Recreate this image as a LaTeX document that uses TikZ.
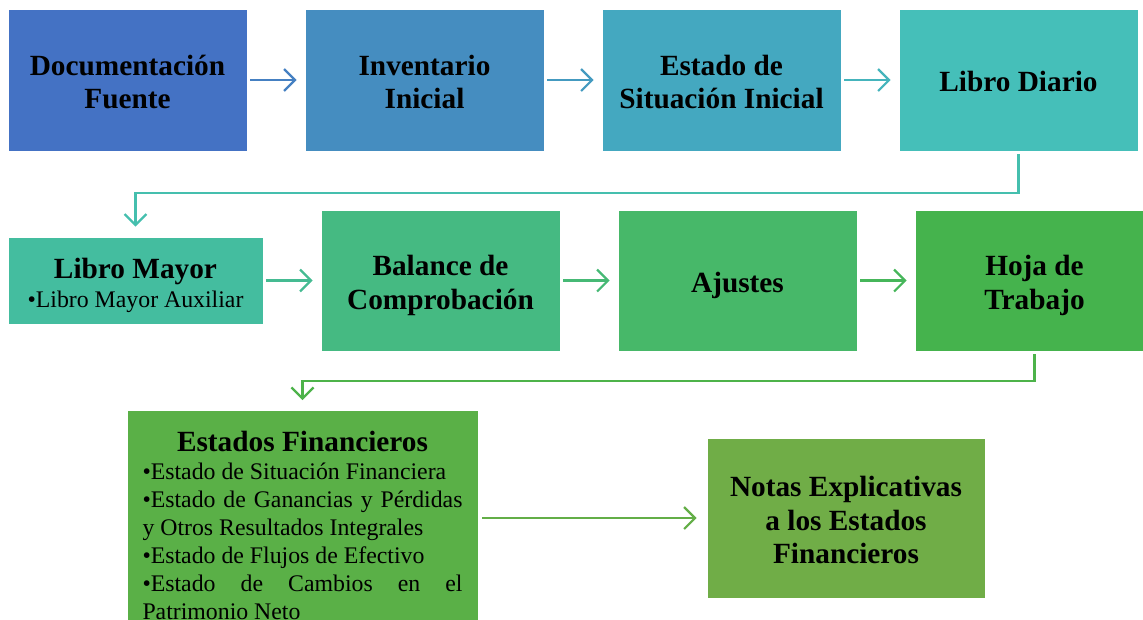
\documentclass[tikz,border=0pt]{standalone}
\usepackage{fontspec}
\setmainfont{Liberation Serif}
\usetikzlibrary{arrows.meta}
\definecolor{c1}{HTML}{4472C4}
\definecolor{c2}{HTML}{458DC0}
\definecolor{c3}{HTML}{44A8C0}
\definecolor{c4}{HTML}{45BFB9}
\definecolor{c5}{HTML}{44BD9F}
\definecolor{c6}{HTML}{45BA82}
\definecolor{c7}{HTML}{47B869}
\definecolor{c8}{HTML}{45B34D}
\definecolor{c9}{HTML}{5AB047}
\definecolor{c10}{HTML}{70AD47}
\definecolor{a12}{HTML}{4580C2}
\definecolor{a23}{HTML}{449AC0}
\definecolor{a34}{HTML}{45B4BC}
\definecolor{a45}{HTML}{45BFAE}
\definecolor{a56}{HTML}{45BB92}
\definecolor{a67}{HTML}{46B975}
\definecolor{a78}{HTML}{46B65A}
\definecolor{a89}{HTML}{4DB34A}
\definecolor{a910}{HTML}{63AE47}
\newcommand{\ttlfont}{\fontsize{29.3}{33.5}\selectfont\bfseries}
\newcommand{\bodyfont}{\fontsize{23.8}{28}\selectfont\mdseries}
\tikzset{
  boxnode/.style={rectangle, draw=white, line width=0.8pt, inner sep=0pt},
  boxtext/.style={inner sep=0pt, align=center, text=black, font=\ttlfont},
  flowarrow/.style={line width=2.2pt, -{Straight Barb[length=11pt,width=22pt,line width=2.2pt]}},
  elbowarrow/.style={line width=2.2pt, -{Straight Barb[length=11pt,width=22pt,line width=2.2pt]}}
}
\begin{document}
\begin{tikzpicture}[x=1pt,y=-1pt]
\useasboundingbox (0,0) rectangle (1143,619);
\clip (0,0) rectangle (1143,619);
% row 1
\node[boxnode, fill=c1, minimum width=239pt, minimum height=142pt] (doc) at (127.5,80) {};
\node[boxnode, fill=c2, minimum width=239pt, minimum height=142pt] (inv) at (424.5,80) {};
\node[boxnode, fill=c3, minimum width=239pt, minimum height=142pt] (esi) at (721.5,80) {};
\node[boxnode, fill=c4, minimum width=239pt, minimum height=142pt] (ldi) at (1018.5,80) {};
\node[boxtext] (doct) at ([yshift=-2pt]doc.center) {Documentación\\Fuente};
\node[boxtext] (invt) at ([yshift=-2pt]inv.center) {Inventario\\Inicial};
\node[boxtext] (esit) at ([yshift=-2pt]esi.center) {Estado de\\Situación Inicial};
\node[boxtext] (ldit) at ([yshift=-1pt]ldi.center) {Libro Diario};
% row 2
\node[boxnode, fill=c5, minimum width=255pt, minimum height=87pt] (lma) at (135.5,280.5) {};
\node[boxnode, fill=c6, minimum width=239pt, minimum height=141pt] (bal) at (440.5,280.5) {};
\node[boxnode, fill=c7, minimum width=239pt, minimum height=141pt] (aju) at (737.5,280.5) {};
\node[boxnode, fill=c8, minimum width=239pt, minimum height=141pt] (hoj) at (1034.5,280.5) {};
\node[boxtext] (lmat) at ([yshift=-5pt]lma.center) {Libro Mayor\\[-5pt]{\bodyfont •Libro Mayor Auxiliar}};
\node[boxtext] (balt) at ([yshift=-5pt]bal.center) {Balance de\\Comprobación};
\node[boxtext] (ajut) at ([yshift=-5pt]aju.center) {Ajustes};
\node[boxtext] (hojt) at ([yshift=-5pt]hoj.center) {Hoja de\\Trabajo};
% row 3
\node[boxnode, fill=c9, minimum width=351pt, minimum height=260pt, anchor=north] (ef) at (302.5,410) {};
\node[anchor=north, inner sep=0pt, text width=320pt, align=justify] (eft) at (302.5,431) {\setlength{\parindent}{0pt}{\centering\ttlfont Estados Financieros\par}\bodyfont
•Estado de Situación Financiera\par
•Estado de Ganancias y Pérdidas\linebreak y Otros Resultados Integrales\par
•Estado de Flujos de Efectivo\par
•Estado de Cambios en el\linebreak Patrimonio Neto\par};
\node[boxnode, fill=c10, minimum width=278pt, minimum height=160pt] (not) at (846,518) {};
\node[boxtext] (nott) at ([yshift=-2pt]not.center) {Notas Explicativas\\a los Estados\\Financieros};
% arrows row 1
\draw[flowarrow, a12, shorten <=3pt, shorten >=8pt] (doc.east) -- (inv.west);
\draw[flowarrow, a23, shorten <=3pt, shorten >=8pt] (inv.east) -- (esi.west);
\draw[flowarrow, a34, shorten <=3pt, shorten >=8pt] (esi.east) -- (ldi.west);
% elbow 1
\coordinate (k1) at (1018.5,193);
\draw[elbowarrow, a45, shorten <=3pt, shorten >=10pt] (ldi.south) -- (k1) -| (lma.north);
% arrows row 2
\draw[flowarrow, a56, shorten <=3pt, shorten >=8pt] (lma.east) -- (bal.west);
\draw[flowarrow, a67, shorten <=3pt, shorten >=8pt] (bal.east) -- (aju.west);
\draw[flowarrow, a78, shorten <=3pt, shorten >=8pt] (aju.east) -- (hoj.west);
% elbow 2
\coordinate (k2) at (1034.5,381);
\draw[elbowarrow, a89, shorten <=3pt, shorten >=10pt] (hoj.south) -- (k2) -| (ef.north);
% arrow row 3
\coordinate (k3) at (ef.east |- not.west);
\draw[flowarrow, a910, shorten <=4pt, shorten >=10pt] (k3) -- (not.west);
\end{tikzpicture}
\end{document}
